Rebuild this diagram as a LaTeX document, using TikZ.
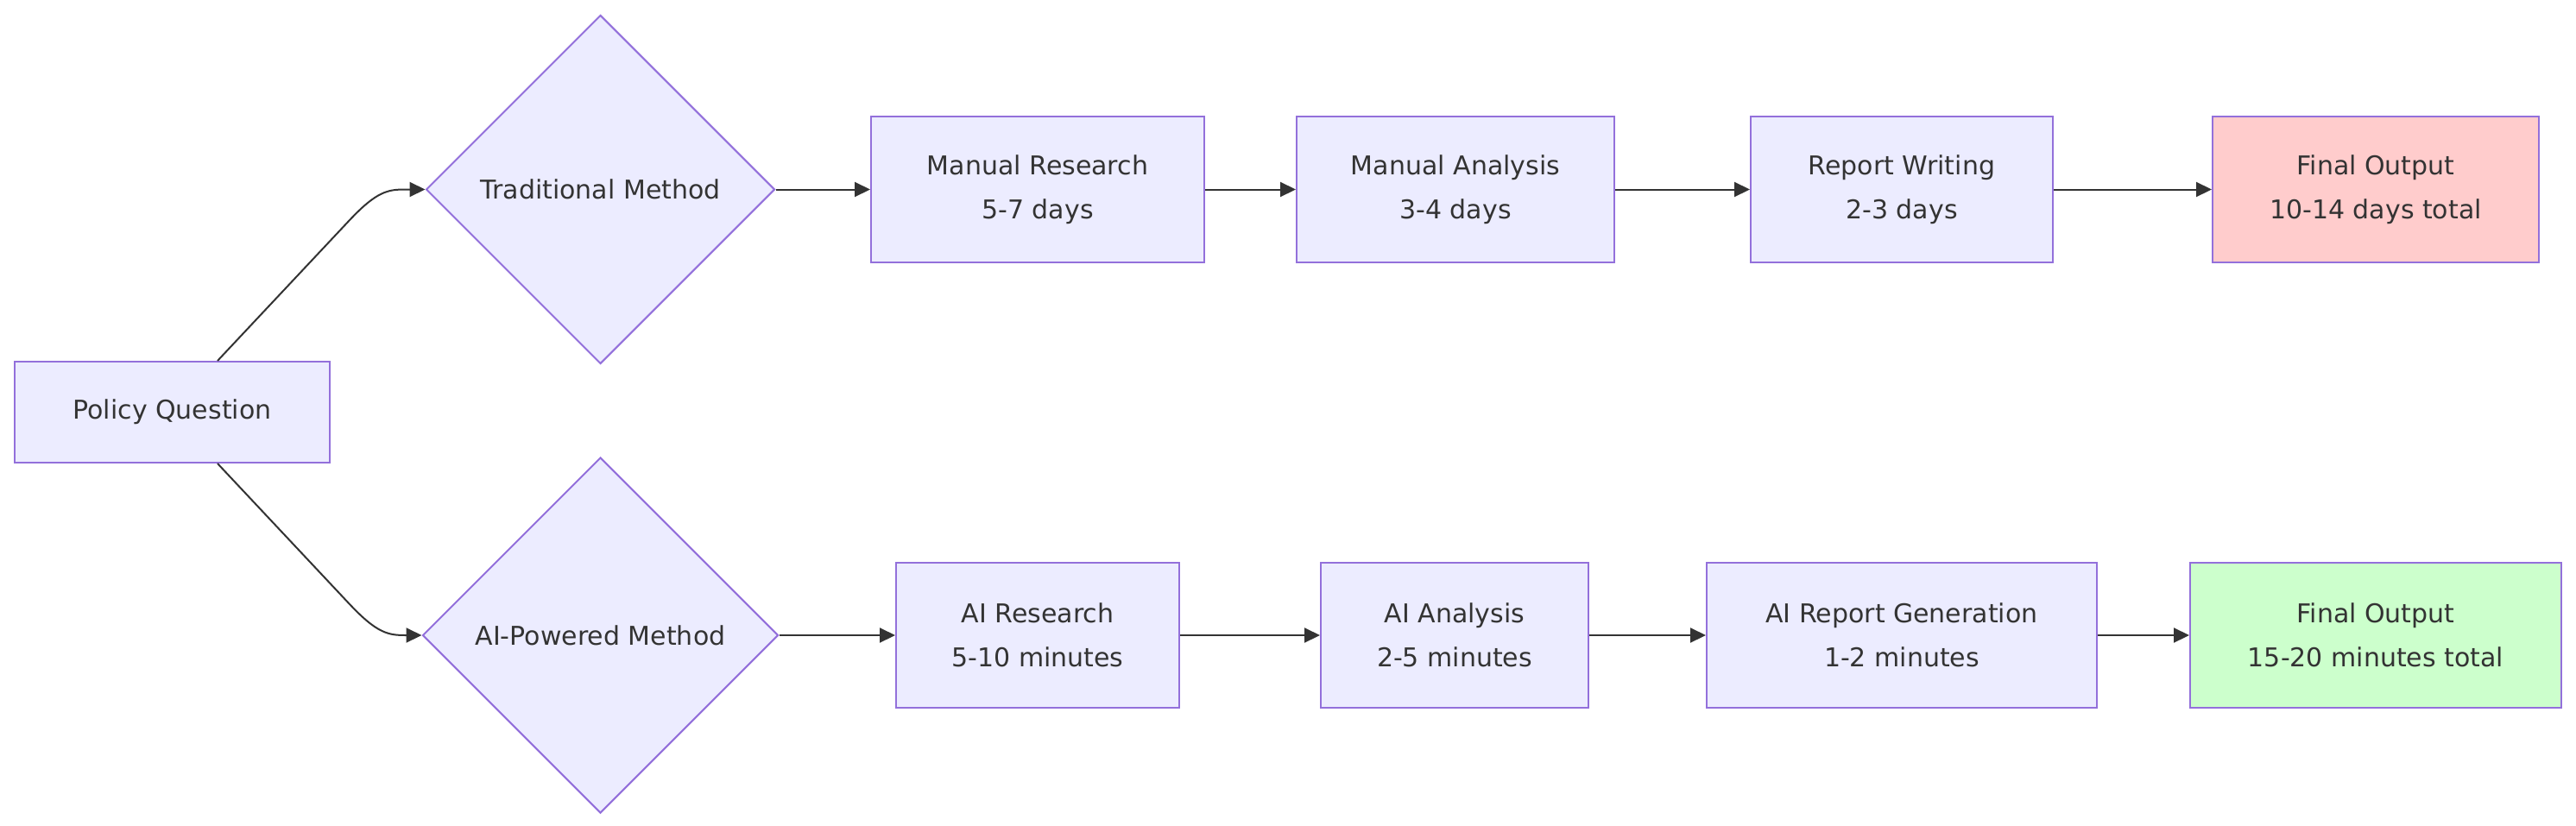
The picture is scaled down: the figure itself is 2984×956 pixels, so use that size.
\documentclass[tikz,border=0pt]{standalone}
\usepackage{fontspec}
\setmainfont{DejaVu Sans}
\usetikzlibrary{arrows.meta,shapes.geometric}
\definecolor{nodefill}{HTML}{ECECFF}
\definecolor{nodeline}{HTML}{9370DB}
\definecolor{txt}{HTML}{333333}
\definecolor{pinkfill}{HTML}{FFCCCC}
\definecolor{greenfill}{HTML}{CCFFCC}
\tikzset{
  box/.style={draw=nodeline, fill=nodefill, line width=2pt, inner sep=0pt,
    text=txt, align=center, font=\fontsize{30}{51}\selectfont,
    minimum height=169pt},
  dia/.style={diamond, aspect=1, draw=nodeline, fill=nodefill, line width=2pt,
    inner sep=0pt, text=txt, font=\fontsize{30}{51}\selectfont},
  arr/.style={draw=txt, line width=2pt, -{Triangle[length=18pt,width=17pt]}},
}
\begin{document}
\begin{tikzpicture}[x=1pt,y=-1pt]
\useasboundingbox (0,0) rectangle (2984,956);
\fill[white] (0,0) rectangle (2984,956);

\node[box, minimum width=365pt, minimum height=117pt] (pq) at (199.5,477.5) {Policy Question};

\node[dia, minimum width=404pt, minimum height=404pt] (td) at (695.5,219.5) {Traditional Method};
\node[dia, minimum width=412pt, minimum height=412pt] (aid) at (695.5,736) {AI-Powered Method};

\node[box, minimum width=386pt] (mr) at (1202,219.5) {Manual Research\\5-7 days};
\node[box, minimum width=368pt] (ma) at (1686,219.5) {Manual Analysis\\3-4 days};
\node[box, minimum width=350pt] (rw) at (2203,219.5) {Report Writing\\2-3 days};
\node[box, minimum width=378pt, fill=pinkfill] (fo1) at (2752,219.5) {Final Output\\10-14 days total};

\node[box, minimum width=328pt, minimum height=168pt] (air) at (1202,736) {AI Research\\5-10 minutes};
\node[box, minimum width=310pt, minimum height=168pt] (aia) at (1685,736) {AI Analysis\\2-5 minutes};
\node[box, minimum width=452pt, minimum height=168pt] (aig) at (2203,736) {AI Report Generation\\1-2 minutes};
\node[box, minimum width=430pt, minimum height=168pt, fill=greenfill] (fo2) at (2752,736) {Final Output\\15-20 minutes total};

\coordinate (pqt) at ([xshift=52.5pt]pq.north);
\coordinate (pqb) at ([xshift=52.5pt]pq.south);

\draw[arr] (pqt) -- (405,255) .. controls (437,221) and (450,219.5) .. (470,219.5) -- (td.west);
\draw[arr] (pqb) -- (405,700) .. controls (437,734) and (450,736) .. (470,736) -- (aid.west);

\draw[arr] (td.east) -- (mr.west);
\draw[arr] (mr.east) -- (ma.west);
\draw[arr] (ma.east) -- (rw.west);
\draw[arr] (rw.east) -- (fo1.west);

\draw[arr] (aid.east) -- (air.west);
\draw[arr] (air.east) -- (aia.west);
\draw[arr] (aia.east) -- (aig.west);
\draw[arr] (aig.east) -- (fo2.west);
\end{tikzpicture}
\end{document}
